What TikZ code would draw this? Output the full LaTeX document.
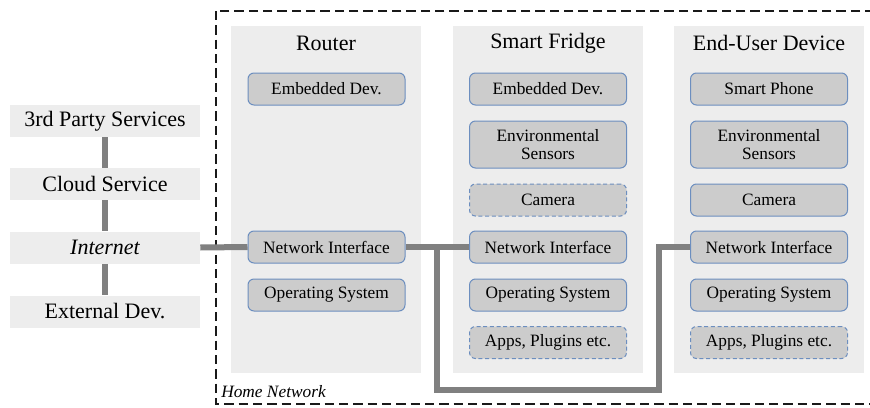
\documentclass[tikz,border=0pt]{standalone}
\usepackage{fontspec}
\setmainfont{Liberation Serif}
\begin{document}
\begin{tikzpicture}[x=0.75pt,y=-0.75pt,
  outer/.style={fill=black!7,draw=none,minimum width=142.5pt,minimum height=24pt,inner sep=0pt,font=\fontsize{16.5}{18}\selectfont},
  panel/.style={fill=black!7,draw=none,minimum width=142.5pt,minimum height=260.25pt,inner sep=0pt},
  ptitle/.style={font=\fontsize{16.5}{18}\selectfont,inner sep=0pt},
  inbox/.style={fill=black!20,draw={rgb,255:red,108;green,142;blue,191},line width=0.75pt,rounded corners=4.5pt,
    minimum width=117.75pt,minimum height=24pt,inner sep=0pt,align=center,font=\fontsize{13}{13.8}\selectfont},
  tall/.style={minimum height=35.25pt},
  opt/.style={dash pattern=on 3pt off 2pt},
  link/.style={draw=black!50,line width=4.5pt},
  home/.style={draw=black!90,line width=1pt,dash pattern=on 7pt off 3.75pt}
]
\useasboundingbox (0,0) rectangle (870,407);

% home network boundary (its right side runs past the page edge)
\draw[home] (216,11) rectangle (876,404);
\node[anchor=west,inner sep=0pt,font=\fontsize{13}{14}\selectfont\itshape] (hn) at (221,392) {Home Network};

% outside world column
\node[outer] (tps) at (105,121) {3rd Party Services};
\node[outer] (cld) at (105,184) {Cloud Service};
\node[outer,font=\fontsize{16.5}{18}\selectfont\itshape] (inet) at (105,247.5) {Internet};
\node[outer] (ext) at (105,311.5) {External Dev.};

% device panels
\node[panel] (prt) at (326,199.5) {};
\node[panel] (pfr) at (548,199.5) {};
\node[panel] (peu) at (769,199.5) {};
\node[ptitle] (trt) at (326,43) {Router};
\node[ptitle] (tfr) at (548,43) {Smart Fridge};
\node[ptitle] (teu) at (769,43) {End-User Device};

% router components
\node[inbox] (remb) at (326.5,89) {Embedded Dev.};
\node[inbox] (rni) at (326.5,247) {Network Interface};
\node[inbox] (ros) at (326.5,295) {Operating System};

% fridge components
\node[inbox] (femb) at (548,89) {Embedded Dev.};
\node[inbox,tall] (fenv) at (548,144.5) {Environmental\\Sensors};
\node[inbox,opt] (fcam) at (548,200) {Camera};
\node[inbox] (fni) at (548,247) {Network Interface};
\node[inbox] (fos) at (548,295) {Operating System};
\node[inbox,opt] (fapp) at (548,342.5) {Apps, Plugins etc.};

% end-user device components
\node[inbox] (eph) at (769,89) {Smart Phone};
\node[inbox,tall] (eenv) at (769,144.5) {Environmental\\Sensors};
\node[inbox] (ecam) at (769,200) {Camera};
\node[inbox] (eni) at (769,247) {Network Interface};
\node[inbox] (eos) at (769,295) {Operating System};
\node[inbox,opt] (eapp) at (769,342.5) {Apps, Plugins etc.};

% connections
\draw[link] (tps.south) -- (cld.north);
\draw[link] (cld.south) -- (inet.north);
\draw[link] (inet.south) -- (ext.north);
\draw[link] (inet.east) -- (rni.west);
\draw[link] (rni.east) -- (fni.west);
\coordinate (j1) at (437,247);
\coordinate (j2) at (659,247);
\draw[link] (j1) -- ++(0,143) -| (j2) -- (eni.west);
\end{tikzpicture}
\end{document}
